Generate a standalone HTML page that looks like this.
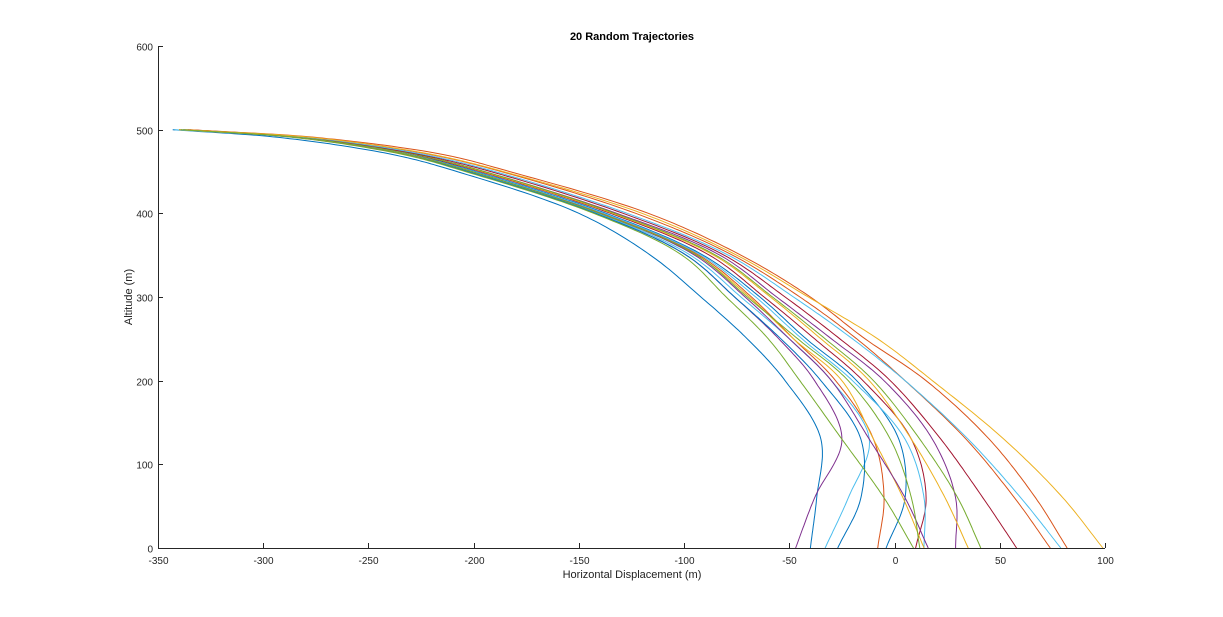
<!DOCTYPE html>
<html><head><meta charset="utf-8"><style>
body{margin:0;background:#fff;}
svg{display:block;font-family:"Liberation Sans",sans-serif;}
</style></head><body>
<svg id="chart" width="1223" height="617" viewBox="0 0 1223 617">
<rect width="1223" height="617" fill="#fff"/>
<text x="632" y="40" text-anchor="middle" font-size="11" font-weight="bold" fill="#000">20 Random Trajectories</text>
<g id="series"></g>
<g id="axes"></g>
<text x="632" y="578" text-anchor="middle" font-size="11" fill="#222">Horizontal Displacement (m)</text>
<text transform="translate(132,297) rotate(-90)" text-anchor="middle" font-size="11" fill="#222">Altitude (m)</text>
</svg>
<script>
const xTicks = [-350,-300,-250,-200,-150,-100,-50,0,50,100];
const yTicks = [0,100,200,300,400,500,600];
const levels = [500,490,470,450,400,350,300,250,200,130,60,0];
const colors = ["#0072BD","#7E2F8E","#4DBEEE","#0072BD","#D95319","#0072BD","#77AC30","#A2142F","#4DBEEE","#EDB120","#7E2F8E","#7E2F8E","#EDB120","#77AC30","#A2142F","#D95319","#4DBEEE","#D95319","#EDB120","#77AC30"];
const t1 = [-343,-290,-238,-208,-150,-116,-92,-70,-52,-35,-37,-40];
const t2 = [-340,-282,-232,-203,-142,-99,-76,-55,-38,-25,-38,-47];
const t3 = [-342,-282,-231,-202,-141,-97,-73,-50,-30,-12,-22,-33];
const t4 = [-340,-282,-232,-203,-142,-99,-76,-54,-35,-16,-16,-27];
const t5 = [-338,-280,-230,-200,-139,-93,-68,-48,-28,-10,-5,-8];
const t6 = [-340,-280,-229,-199,-137,-91,-64,-42,-18,2,5,-4];
const t7 = [-340,-283,-233,-204,-143,-101,-80,-60,-45,-25,-5,9];
const t8 = [-338,-279,-228,-197,-135,-88,-62,-38,-15,8,15,10];
const t9 = [-342,-280,-230,-200,-138,-92,-66,-44,-20,5,14,14];
const t10 = [-340,-281,-231,-201,-140,-94,-69,-48,-25,-10,4,14];
const t11 = [-338,-281,-231,-201,-140,-95,-71,-50,-30,-12,5,16];
const t12 = [-336,-278,-227,-195,-132,-83,-56,-30,-5,18,29,29];
const t13 = [-338,-278,-227,-196,-134,-86,-59,-35,-12,8,24,35];
const t14 = [-337,-278,-227,-195,-133,-85,-58,-33,-10,12,30,41];
const t15 = [-336,-277,-225,-192,-129,-81,-52,-26,-2,22,42,58];
const t16 = [-335,-275,-220,-187,-123,-77,-45,-18,5,34,57,74];
const t17 = [-338,-276,-223,-190,-127,-79,-48,-20,5,35,60,79];
const t18 = [-335,-272,-214,-183,-117,-73,-40,-14,15,45,67,82];
const t19 = [-337,-274,-219,-186,-120,-75,-41,-8,18,52,80,99];
const t20 = [-339,-281,-231,-201,-140,-94,-70,-46,-22,-2,8,12];
const series = [t1,t2,t3,t4,t5,t6,t7,t8,t9,t10,t11,t12,t13,t14,t15,t16,t17,t18,t19,t20];

const X0=158,X1=1105,Y0=548,Y1=46;
const sx = v => X0 + (v + 350) / 450 * (X1 - X0);
const sy = v => Y0 - v / 600 * (Y0 - Y1);
const NS="http://www.w3.org/2000/svg";
const sg=document.getElementById('series');
// centripetal Catmull-Rom, sampled as polyline
function crPath(P){
  const pts=[P[0]].concat(P).concat([P[P.length-1]]);
  pts[0]=[2*P[0][0]-P[1][0],2*P[0][1]-P[1][1]];
  const n=P.length;
  pts[n+1]=[2*P[n-1][0]-P[n-2][0],2*P[n-1][1]-P[n-2][1]];
  const dist=(a,b)=>Math.max(1e-4,Math.pow(Math.hypot(b[0]-a[0],b[1]-a[1]),0.5));
  let d="M"+P[0][0].toFixed(1)+","+P[0][1].toFixed(1);
  for(let i=1;i<n;i++){
    const p0=pts[i-1],p1=pts[i],p2=pts[i+1],p3=pts[i+2];
    const t0=0,t1=t0+dist(p0,p1),t2=t1+dist(p1,p2),t3=t2+dist(p2,p3);
    for(let s=1;s<=20;s++){
      const t=t1+(t2-t1)*s/20;
      const L=(a,b,ta,tb)=>[a[0]*(tb-t)/(tb-ta)+b[0]*(t-ta)/(tb-ta),a[1]*(tb-t)/(tb-ta)+b[1]*(t-ta)/(tb-ta)];
      const A1=L(p0,p1,t0,t1),A2=L(p1,p2,t1,t2),A3=L(p2,p3,t2,t3);
      const B1=L(A1,A2,t0,t2),B2=L(A2,A3,t1,t3);
      const C=L(B1,B2,t1,t2);
      d+="L"+C[0].toFixed(1)+","+C[1].toFixed(1);
    }
  }
  return d;
}
series.forEach((xs,i)=>{
  const pts=xs.map((x,j)=>[sx(x),sy(levels[j])]);
  const p=document.createElementNS(NS,'path');
  p.setAttribute('d',crPath(pts));
  p.setAttribute('fill','none');
  p.setAttribute('stroke',colors[i]);
  p.setAttribute('stroke-width','1');
  p.setAttribute('stroke-linejoin','round');
  
  
  sg.appendChild(p);
});
const ag=document.getElementById('axes');
function el(tag,attrs,txt){const e=document.createElementNS(NS,tag);for(const k in attrs)e.setAttribute(k,attrs[k]);if(txt!==undefined)e.textContent=txt;ag.appendChild(e);return e;}
const xa=el('line',{x1:X0,y1:Y0+0.5,x2:X1,y2:Y0+0.5,stroke:'#262626','stroke-width':1});


const ya=el('line',{x1:X0+0.5,y1:Y0,x2:X0+0.5,y2:Y1,stroke:'#262626','stroke-width':1});


xTicks.forEach(t=>{
  const x=Math.round(sx(t))+0.5;
  const tk=el('line',{x1:x,y1:Y0,x2:x,y2:Y0-5,stroke:'#262626'});
  
  
  const lb=el('text',{x:x,y:Y0+16,'text-anchor':'middle','font-size':10,fill:'#262626'},String(t));
  
  
});
yTicks.forEach(t=>{
  const y=Math.round(sy(t))+0.5;
  const tk=el('line',{x1:X0,y1:y,x2:X0+5,y2:y,stroke:'#262626'});
  
  
  const lb=el('text',{x:X0-5,y:y+4,'text-anchor':'end','font-size':10,fill:'#262626'},String(t));
  
  
});
</script>
</body></html>
